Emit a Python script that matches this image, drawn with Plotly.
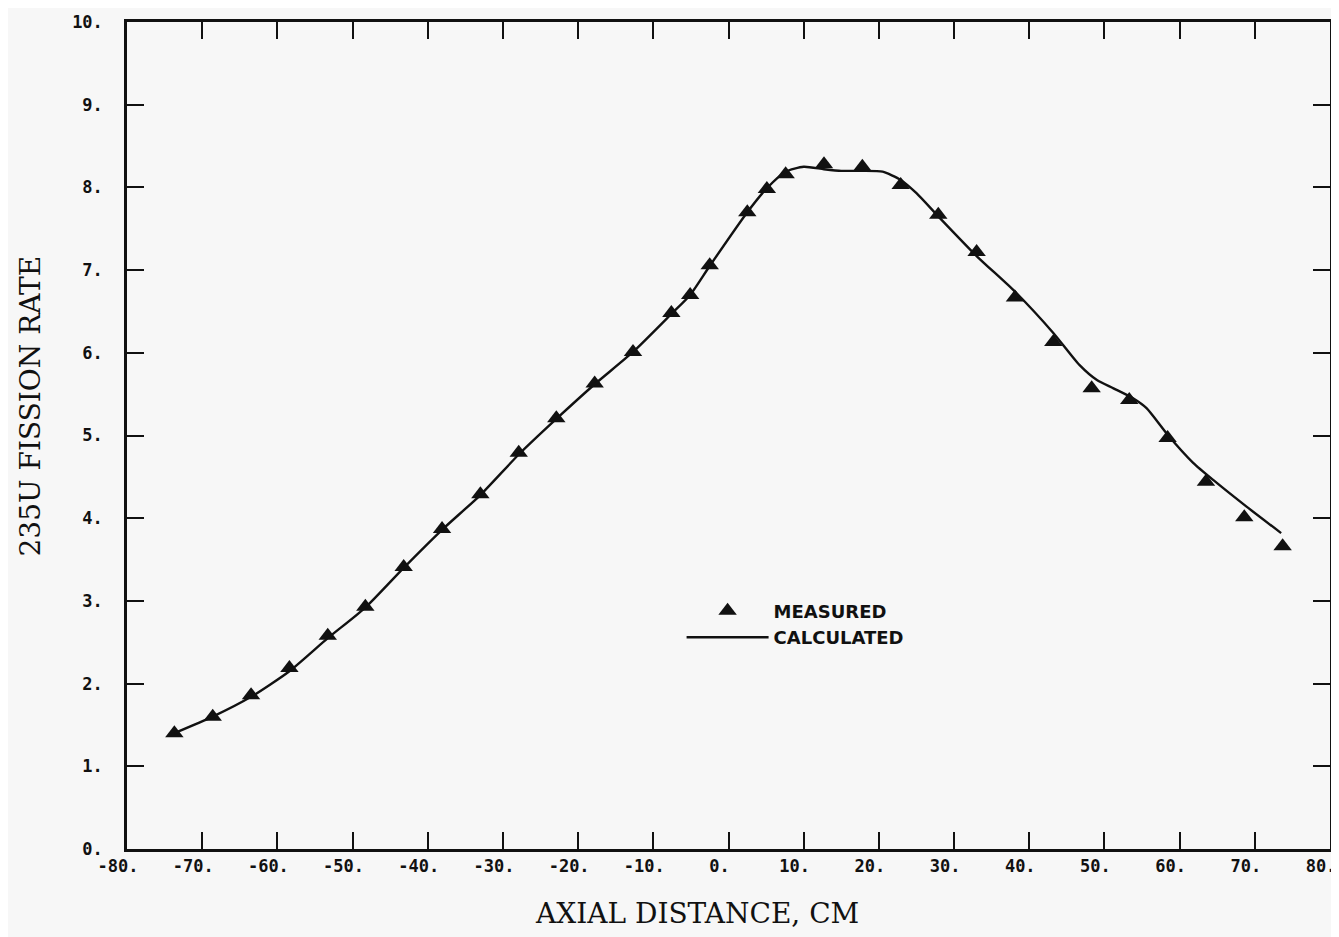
import plotly.graph_objects as go

# Measured points (axial distance in cm, 235U fission rate)
meas_x = [-73.7, -68.6, -63.5, -58.4, -53.3, -48.3, -43.2, -38.1, -33.0, -27.9, -22.9,
          -17.8, -12.7, -7.6, -5.1, -2.5, 2.5, 5.1, 7.6, 12.7, 17.8, 22.9, 27.9, 33.0,
          38.1, 43.2, 48.3, 53.3, 58.4, 63.5, 68.6, 73.7]
meas_y = [1.40, 1.60, 1.86, 2.19, 2.58, 2.93, 3.41, 3.87, 4.29, 4.79, 5.21,
          5.63, 6.01, 6.48, 6.70, 7.06, 7.70, 7.98, 8.16, 8.28, 8.25, 8.03, 7.67, 7.22,
          6.67, 6.13, 5.57, 5.43, 4.97, 4.44, 4.01, 3.66]

# Calculated curve
calc_x = [-73.7, -68.6, -63.5, -58.4, -53.3, -48.3, -43.2, -38.1, -33.0, -27.9, -22.9,
          -17.8, -12.7, -7.6, -5.1, -2.5, 2.5, 5.1, 7.6, 10.0, 12.7, 15.0, 17.8, 20.5,
          22.9, 25.0, 27.9, 33.0, 38.1, 43.2, 46.7, 49.0, 51.2, 53.8, 55.6, 58.4, 61.8,
          64.5, 68.9, 73.5]
calc_y = [1.40, 1.60, 1.84, 2.15, 2.55, 2.92, 3.40, 3.86, 4.28, 4.77, 5.20,
          5.62, 6.01, 6.47, 6.70, 7.05, 7.70, 7.99, 8.19, 8.25, 8.22, 8.20, 8.20, 8.19,
          8.09, 7.93, 7.65, 7.17, 6.74, 6.24, 5.85, 5.67, 5.57, 5.45, 5.33, 5.01, 4.67,
          4.46, 4.14, 3.82]

x_tickvals = [-80, -70, -60, -50, -40, -30, -20, -10, 0, 10, 20, 30, 40, 50, 60, 70, 80]
x_ticktext = ["-80.", "-70.", "-60.", "-50.", "-40.", "-30.", "-20.", "-10.", "0.",
              "10.", "20.", "30.", "40.", "50.", "60.", "70.", "80."]
y_tickvals = [0, 1, 2, 3, 4, 5, 6, 7, 8, 9, 10]
y_ticktext = ["0.", "1.", "2.", "3.", "4.", "5.", "6.", "7.", "8.", "9.", "10."]

INK = "#111111"
BG = "#f7f7f7"
tickfont = dict(family="DejaVu Sans Mono", size=17, color=INK, weight="bold")
serif = "DejaVu Serif"

fig = go.Figure()
fig.add_trace(go.Scatter(
    x=meas_x, y=meas_y, mode="markers", name="MEASURED",
    marker=dict(symbol="triangle-up", size=16, color=INK, line=dict(width=0)),
))
fig.add_trace(go.Scatter(
    x=calc_x, y=calc_y, mode="lines", name="CALCULATED",
    line=dict(color=INK, width=2.4, shape="spline", smoothing=0.6),
))

axis_common = dict(
    showgrid=False, zeroline=False, showline=True, linecolor=INK, linewidth=2.5,
    mirror="ticks", ticks="inside", ticklen=17, tickwidth=2, tickcolor=INK,
    tickfont=tickfont, automargin=False,
)

fig.update_xaxes(range=[-80, 80], tickmode="array", tickvals=x_tickvals,
                 ticktext=x_ticktext, ticklabelstandoff=0, ticklabelshift=-9,
                 **axis_common)
fig.update_yaxes(range=[0, 10], tickmode="array", tickvals=y_tickvals,
                 ticktext=y_ticktext, ticklabelstandoff=18, **axis_common)

fig.update_layout(
    width=1339, height=937,
    margin=dict(l=119, r=17, t=14, b=96),
    paper_bgcolor=BG, plot_bgcolor=BG,
    showlegend=True,
    legend=dict(
        x=0.461, y=0.31, xanchor="left", yanchor="top",
        bgcolor="rgba(0,0,0,0)", borderwidth=0, itemwidth=82,
        font=dict(family="DejaVu Sans", size=18, color=INK, weight="bold"),
        tracegroupgap=0,
    ),
    annotations=[
        dict(text="AXIAL DISTANCE, CM", xref="paper", yref="paper",
             x=0.474, y=-0.078, xanchor="center", yanchor="middle", showarrow=False,
             font=dict(family=serif, size=28, color=INK)),
        dict(text="235U FISSION RATE", xref="paper", yref="paper",
             x=-0.08, y=0.536, xanchor="center", yanchor="middle", showarrow=False,
             textangle=-90, font=dict(family=serif, size=28, color=INK)),
    ],
)

fig.write_html("out.html")
